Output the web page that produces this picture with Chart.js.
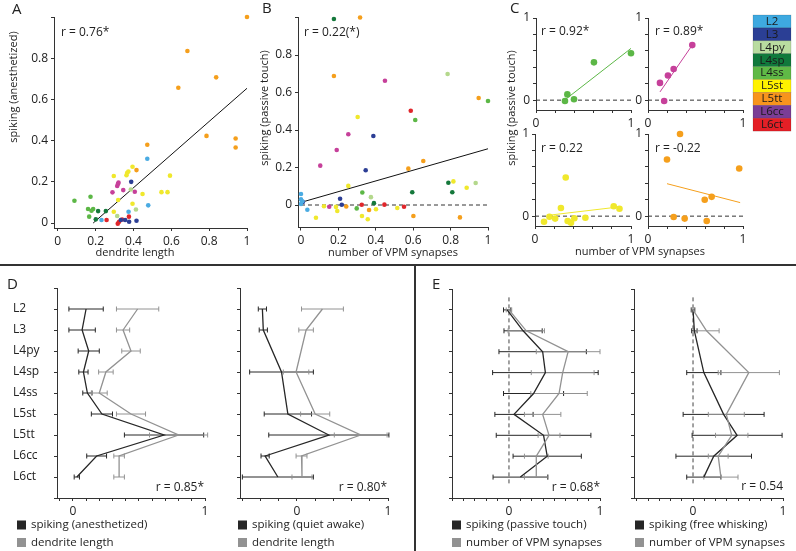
<!DOCTYPE html>
<html>
<head>
<meta charset="utf-8">
<script src="https://cdn.jsdelivr.net/npm/chart.js@4.4.1/dist/chart.umd.min.js"></script>
<style>
html, body { margin: 0; padding: 0; background: #fff; }
#fig { position: relative; width: 796px; height: 551px; overflow: hidden; }
#fig canvas { position: absolute; left: 0; top: 0; }
</style>
</head>
<body>
<div id="fig">
  <canvas id="cA" width="796" height="551"></canvas>
  <canvas id="cB" width="796" height="551"></canvas>
  <canvas id="cC1" width="796" height="551"></canvas>
  <canvas id="cC2" width="796" height="551"></canvas>
  <canvas id="cC3" width="796" height="551"></canvas>
  <canvas id="cC4" width="796" height="551"></canvas>
  <canvas id="cD1" width="796" height="551"></canvas>
  <canvas id="cD2" width="796" height="551"></canvas>
  <canvas id="cE1" width="796" height="551"></canvas>
  <canvas id="cE2" width="796" height="551"></canvas>
</div>
<script>
// cell types
const layers = ['L2', 'L3', 'L4py', 'L4sp', 'L4ss', 'L5st', 'L5tt', 'L6cc', 'L6ct'];
const dotColors = ['#4aabe2', '#2c3e95', '#b4d88c', '#15783b', '#5cb746', '#f0e82c', '#f59f1c', '#c6409a', '#e0262b'];
const legendColors = ['#3ea9e0', '#2b3f95', '#b9dca0', '#10793c', '#5fb946', '#fff200', '#f7941d', '#7b3d96', '#e41f26'];

// A: spiking (anesthetized) vs dendrite length
const scatterA = {
  L2: [[0.473, 0.312], [0.478, 0.086], [0.374, 0.055], [0.231, 0.015]],
  L3: [[0.388, 0.2], [0.333, 0.015], [0.356, 0.015], [0.377, 0.006], [0.416, 0.011]],
  L4py: [[0.386, 0.163], [0.413, 0.066], [0.314, 0.034]],
  L4sp: [[0.213, 0.058], [0.254, 0.058], [0.201, 0.018]],
  L4ss: [[0.088, 0.108], [0.173, 0.128], [0.16, 0.068], [0.187, 0.068], [0.166, 0.031], [0.178, 0.06]],
  L5st: [[0.296, 0.228], [0.367, 0.244], [0.373, 0.25], [0.395, 0.273], [0.363, 0.232], [0.448, 0.141],
         [0.548, 0.15], [0.58, 0.15], [0.593, 0.23], [0.395, 0.094], [0.296, 0.055], [0.319, 0.112]],
  L5tt: [[1.0, 1.0], [0.685, 0.835], [0.637, 0.657], [0.837, 0.707], [0.786, 0.423], [0.94, 0.41],
         [0.94, 0.367], [0.473, 0.38], [0.416, 0.257]],
  L6cc: [[0.321, 0.196], [0.314, 0.18], [0.289, 0.149], [0.346, 0.16], [0.407, 0.152], [0.318, 0.19]],
  L6ct: [[0.258, 0.015], [0.376, 0.031], [0.324, 0.006], [0.317, -0.003], [0.34, 0.017]],
};
const fitA = [[0.187, 0], [1, 0.654]];

// B: spiking (passive touch) vs number of VPM synapses
const scatterB = {
  L2: [[0, 0.059], [0, 0.03], [0, 0.005], [0.007, 0.02], [0.034, -0.025]],
  L3: [[0.387, 0.368], [0.346, 0.185], [0.209, 0.033], [0.218, 0.001], [0.01, 0.016]],
  L4py: [[0.374, 0.042], [0.784, 0.699], [0.934, 0.117]],
  L4sp: [[0.176, 0.992], [0.788, 0.119], [0.595, 0.068], [0.809, 0.068], [0.39, 0.01]],
  L4ss: [[0.328, 0.067], [0.298, -0.018], [1.0, 0.555], [0.611, 0.453]],
  L5st: [[0.303, 0.469], [0.253, 0.102], [0.123, -0.007], [0.08, -0.068], [0.187, -0.01], [0.194, -0.032],
         [0.326, -0.059], [0.357, -0.076], [0.401, -0.023], [0.515, -0.016], [0.815, 0.126], [0.886, 0.092]],
  L5tt: [[0.316, 1.0], [0.176, 0.688], [0.242, -0.008], [0.364, -0.027], [0.95, 0.571], [0.654, 0.235],
         [0.574, 0.194], [0.601, -0.059], [0.85, -0.066]],
  L6cc: [[0.253, 0.377], [0.191, 0.293], [0.103, 0.21], [0.151, -0.009], [0.449, 0.663]],
  L6ct: [[0.325, 0.001], [0.587, 0.503], [0.446, 0.002], [0.551, -0.009]],
};
const fitB = [[0, 0.014], [1, 0.3]];

// C: single cell types
const cL4ss = [[0.305, -0.01], [0.33, 0.07], [0.40, 0.01], [0.61, 0.46], [1.0, 0.57]];
const fitL4ss = [[0.3, 0], [1, 0.63]];
const cL6cc = [[0.126, 0.21], [0.21, 0.30], [0.27, 0.38], [0.466, 0.67], [0.17, -0.01]];
const fitL6cc = [[0.126, 0.10], [0.466, 0.67]];
const cL5st = [[0.094, -0.068], [0.15, -0.008], [0.21, -0.03], [0.27, 0.10], [0.32, 0.47], [0.34, -0.06],
               [0.375, -0.08], [0.41, -0.025], [0.525, -0.02], [0.82, 0.12], [0.88, 0.09]];
const fitL5st = [[0.15, 0.012], [0.88, 0.113]];
const cL5tt = [[0.2, 0.69], [0.337, 1.0], [0.27, -0.01], [0.386, -0.03], [0.597, 0.2], [0.67, 0.235],
               [0.618, -0.06], [0.96, 0.58]];
const fitL5tt = [[0.2, 0.395], [0.97, 0.165]];

// D: profiles per layer (mean and spread), null = no data
const dAnes = [0.10, 0.07, 0.12, 0.08, 0.11, 0.22, 0.69, 0.18, 0.03];
const dAnesSd = [0.13, 0.10, 0.08, 0.035, 0.035, 0.08, 0.30, 0.075, 0.02];
const dDend = [0.49, 0.38, 0.44, 0.25, 0.20, 0.44, 0.80, 0.35, 0.35];
const dDendSd = [0.16, 0.05, 0.07, 0.055, 0.06, 0.11, 0.22, 0.04, 0.04];
const dAwake = [-0.38, -0.37, null, -0.17, null, -0.10, 0.35, -0.35, -0.21];
const dAwakeSd = [0.045, 0.045, null, 0.35, null, 0.26, 0.66, 0.045, 0.39];
const dDend2 = [0.28, 0.10, null, -0.01, null, 0.20, 0.70, 0.05, 0.055];
const dDend2Sd = [0.23, 0.08, null, 0.14, null, 0.16, 0.29, 0.06, 0.11];

// E
const eTouch = [-0.02, 0.155, 0.37, 0.40, 0.27, 0.055, 0.38, 0.42, 0.125];
const eTouchSd = [0.04, 0.21, 0.48, 0.58, 0.33, 0.21, 0.52, 0.375, 0.30];
const eVpm = [0.0, 0.19, 0.65, 0.59, 0.55, 0.37, 0.44, 0.30, 0.30];
const eVpmSd = [0.03, 0.2, 0.35, 0.345, 0.31, 0.2, 0.12, 0.13, 0.13];
const eWhisk = [0.0, 0.015, null, 0.12, null, 0.34, 0.49, 0.23, 0.12];
const eWhiskSd = [0.02, 0.03, null, 0.19, null, 0.45, 0.50, 0.42, 0.19];
const eVpm2 = [0.0, 0.15, null, 0.62, null, 0.37, 0.43, 0.28, 0.31];
const eVpm2Sd = [0.01, 0.14, null, 0.34, null, 0.2, 0.18, 0.11, 0.19];

const W = 796, H = 551;
const FONT = "'Open Sans', 'Noto Sans', sans-serif";
const AXIS = '#333';
const DARK = '#262626';
const GREY = '#929292';
Chart.defaults.font.family = FONT;
Chart.defaults.color = '#222';

const extras = {};
Chart.register({
  id: 'extras',
  afterDraw(chart) {
    const f = extras[chart.canvas.id];
    if (f) f(chart.ctx, chart);
  },
});

function txt(ctx, s, x, y, o = {}) {
  ctx.save();
  ctx.font = `${o.size || 12}px ${FONT}`;
  ctx.fillStyle = o.color || '#222';
  ctx.textAlign = o.align || 'left';
  ctx.textBaseline = 'middle';
  ctx.translate(x, y);
  if (o.rot) ctx.rotate(o.rot);
  ctx.fillText(s, 0, 0);
  ctx.restore();
}

function yTitle(ctx, s, x, y) {
  txt(ctx, s, x, y, { rot: -Math.PI / 2, align: 'center', size: 11 });
}

function xTitle(ctx, s, x, y) {
  txt(ctx, s, x, y, { align: 'center', size: 11 });
}

function legendPair(ctx, x, y, dark, grey) {
  ctx.fillStyle = DARK;
  ctx.fillRect(x, y - 4.5, 9, 9);
  ctx.fillStyle = GREY;
  ctx.fillRect(x, y + 13, 9, 9);
  txt(ctx, dark, x + 14, y, { size: 11.5 });
  txt(ctx, grey, x + 14, y + 17.5, { size: 11.5 });
}

const lblAll = v => String(v);
const lblNo1 = v => (v >= 1 ? '' : String(v));
const lbl01 = v => (v === 0 || v === 1 ? String(v) : '');
const lblLayer = v => layers[v] || '';
const lblNone = () => '';

function axis(a, pos, size) {
  return {
    type: 'linear',
    position: pos,
    min: a.min,
    max: a.max,
    reverse: !!a.reverse,
    border: { display: true, color: AXIS, width: 1 },
    grid: { display: true, drawOnChartArea: false, drawTicks: true, tickLength: 3, color: AXIS, tickColor: AXIS },
    ticks: {
      stepSize: a.step,
      includeBounds: false,
      autoSkip: false,
      maxRotation: 0,
      minRotation: 0,
      padding: 3,
      crossAlign: a.far ? 'far' : 'near',
      font: { size: 12 },
      color: '#222',
      callback: v => a.label(Math.round(v * 1000) / 1000),
    },
    afterFit: s => {
      if (pos === 'left') s.width = size; else s.height = size;
    },
  };
}

function makeChart(id, area, xAx, yAx, datasets, draw, yW = 40) {
  const xH = 26;
  extras[id] = draw;
  return new Chart(document.getElementById(id), {
    type: 'scatter',
    data: { datasets },
    options: {
      responsive: false,
      animation: false,
      events: [],
      layout: {
        autoPadding: false,
        padding: { left: area.l - yW, top: area.t, right: W - area.r, bottom: H - area.b - xH },
      },
      plugins: { legend: { display: false }, tooltip: { enabled: false } },
      scales: { x: axis(xAx, 'bottom', xH), y: axis(yAx, 'left', yW) },
    },
  });
}

function dots(groups, r) {
  return Object.keys(groups).map(k => ({
    data: groups[k].map(p => ({ x: p[0], y: p[1] })),
    backgroundColor: dotColors[layers.indexOf(k)],
    borderWidth: 0,
    pointRadius: r,
    clip: false,
  }));
}

function line(pts, color, width, dash) {
  return {
    data: pts.map(p => ({ x: p[0], y: p[1] })),
    showLine: true,
    pointRadius: 0,
    borderColor: color,
    borderWidth: width,
    borderDash: dash || [],
    clip: false,
  };
}

function errBars(m, sd, color) {
  const out = [];
  m.forEach((v, i) => {
    if (v === null) return;
    out.push({
      data: [{ x: v - sd[i], y: i }, { x: v + sd[i], y: i }],
      showLine: true,
      borderColor: color,
      borderWidth: 1,
      pointStyle: 'line',
      pointRotation: 90,
      pointRadius: 2.5,
      pointBorderColor: color,
      pointBorderWidth: 1,
      clip: false,
    });
  });
  return out;
}

function meanLine(m, color) {
  return {
    data: m.map((v, i) => (v === null ? null : { x: v, y: i })).filter(p => p),
    showLine: true,
    pointRadius: 0,
    borderColor: color,
    borderWidth: 1.3,
    clip: false,
  };
}

const dash = [4, 3];

// ---- A
makeChart('cA', { l: 54, t: 17, r: 247, b: 228 },
  { min: -0.02, max: 1, step: 0.2, label: lblAll },
  { min: -0.024, max: 1, step: 0.2, label: lblNo1 },
  [...dots(scatterA, 2.3), line(fitA, '#111', 1)],
  ctx => {
    ctx.save();
    ctx.strokeStyle = '#333';
    ctx.lineWidth = 2;
    ctx.beginPath();
    ctx.moveTo(0, 265); ctx.lineTo(W, 265);
    ctx.moveTo(415, 265); ctx.lineTo(415, H);
    ctx.stroke();
    ctx.restore();
    txt(ctx, 'A', 12, 10, { size: 15 });
    txt(ctx, 'r = 0.76*', 61, 33);
    yTitle(ctx, 'spiking (anesthetized)', 14, 87);
    xTitle(ctx, 'dendrite length', 135, 253);
  });

// ---- B
makeChart('cB', { l: 298, t: 17.5, r: 488, b: 227.5 },
  { min: -0.016, max: 1, step: 0.2, label: lblAll },
  { min: -0.12, max: 1, step: 0.2, label: lblNo1 },
  [...dots(scatterB, 2.3), line(fitB, '#111', 1), line([[0, 0], [1, 0]], '#333', 1, dash)],
  ctx => {
    txt(ctx, 'B', 262, 9, { size: 15 });
    txt(ctx, 'r = 0.22(*)', 304, 33);
    yTitle(ctx, 'spiking (passive touch)', 265, 108);
    xTitle(ctx, 'number of VPM synapses', 393, 253);
  });

// ---- C
const cX = { min: 0, max: 1, step: 0.2, label: lbl01 };
const cY = { min: -0.12, max: 1, step: 0.2, label: lbl01 };
makeChart('cC1', { l: 536, t: 18, r: 631, b: 110 }, cX, cY,
  [...dots({ L4ss: cL4ss }, 3.3), line(fitL4ss, dotColors[4], 1), line([[0, 0], [1, 0]], '#333', 1, dash)],
  ctx => {
    txt(ctx, 'C', 510, 9, { size: 15 });
    txt(ctx, 'r = 0.92*', 541, 32);
    yTitle(ctx, 'spiking (passive touch)', 512, 108);
    xTitle(ctx, 'number of VPM synapses', 640, 252);
    layers.forEach((name, i) => {
      const y0 = 15 + i * 12.9;
      ctx.fillStyle = legendColors[i];
      ctx.fillRect(753, y0, 38, 12.9);
      ctx.strokeStyle = 'rgba(0,0,0,0.25)';
      ctx.lineWidth = 0.5;
      ctx.strokeRect(753, y0, 38, 12.9);
      txt(ctx, name, 772, y0 + 6.6, { align: 'center', size: 11.5, color: '#1a1a1a' });
    });
  });
makeChart('cC2', { l: 648, t: 18, r: 743, b: 110 }, cX, cY,
  [...dots({ L6cc: cL6cc }, 3.3), line(fitL6cc, dotColors[7], 1), line([[0, 0], [1, 0]], '#333', 1, dash)],
  ctx => txt(ctx, 'r = 0.89*', 655, 32));
makeChart('cC3', { l: 535, t: 134, r: 631, b: 226 }, cX, cY,
  [...dots({ L5st: cL5st }, 3.3), line(fitL5st, dotColors[5], 1), line([[0, 0], [1, 0]], '#333', 1, dash)],
  ctx => txt(ctx, 'r = 0.22', 541, 149));
makeChart('cC4', { l: 648, t: 134, r: 743, b: 226 }, cX, cY,
  [...dots({ L5tt: cL5tt }, 3.3), line(fitL5tt, dotColors[6], 1), line([[0, 0], [1, 0]], '#333', 1, dash)],
  ctx => txt(ctx, 'r = -0.22', 655, 149));

// ---- D
const catY = lbl => ({ min: -1, max: 9, step: 1, reverse: true, label: lbl, far: true });
makeChart('cD1', { l: 57, t: 288, r: 205, b: 498 },
  { min: -0.12, max: 1, step: 0.1, label: lbl01 },
  catY(lblLayer),
  [meanLine(dDend, GREY), meanLine(dAnes, DARK), ...errBars(dDend, dDendSd, GREY), ...errBars(dAnes, dAnesSd, DARK)],
  ctx => {
    txt(ctx, 'D', 7, 285, { size: 15 });
    txt(ctx, 'r = 0.85*', 204, 488, { align: 'right' });
    legendPair(ctx, 17, 525, 'spiking (anesthetized)', 'dendrite length');
  }, 44);
makeChart('cD2', { l: 240, t: 288, r: 388, b: 498 },
  { min: -0.626, max: 1, step: 0.2, label: lbl01 },
  catY(lblNone),
  [meanLine(dDend2, GREY), meanLine(dAwake, DARK), ...errBars(dDend2, dDend2Sd, GREY), ...errBars(dAwake, dAwakeSd, DARK)],
  ctx => {
    txt(ctx, 'r = 0.80*', 387, 488, { align: 'right' });
    legendPair(ctx, 238, 525, 'spiking (quiet awake)', 'dendrite length');
  });

// ---- E
makeChart('cE1', { l: 452, t: 289, r: 600, b: 498 },
  { min: -0.626, max: 1, step: 0.125, label: lbl01 },
  catY(lblNone),
  [meanLine(eVpm, GREY), meanLine(eTouch, DARK), ...errBars(eVpm, eVpmSd, GREY), ...errBars(eTouch, eTouchSd, DARK),
   line([[0, -0.6], [0, 8.3]], '#444', 1, dash)],
  ctx => {
    txt(ctx, 'E', 432, 285, { size: 15 });
    txt(ctx, 'r = 0.68*', 600, 488, { align: 'right' });
    legendPair(ctx, 452, 525, 'spiking (passive touch)', 'number of VPM synapses');
  });
makeChart('cE2', { l: 634, t: 289, r: 783, b: 498 },
  { min: -0.656, max: 1, step: 0.125, label: lbl01 },
  catY(lblNone),
  [meanLine(eVpm2, GREY), meanLine(eWhisk, DARK), ...errBars(eVpm2, eVpm2Sd, GREY), ...errBars(eWhisk, eWhiskSd, DARK),
   line([[0, -0.6], [0, 8.3]], '#444', 1, dash)],
  ctx => {
    txt(ctx, 'r = 0.54', 783, 487, { align: 'right' });
    legendPair(ctx, 635, 525, 'spiking (free whisking)', 'number of VPM synapses');
  });
</script>
</body>
</html>
